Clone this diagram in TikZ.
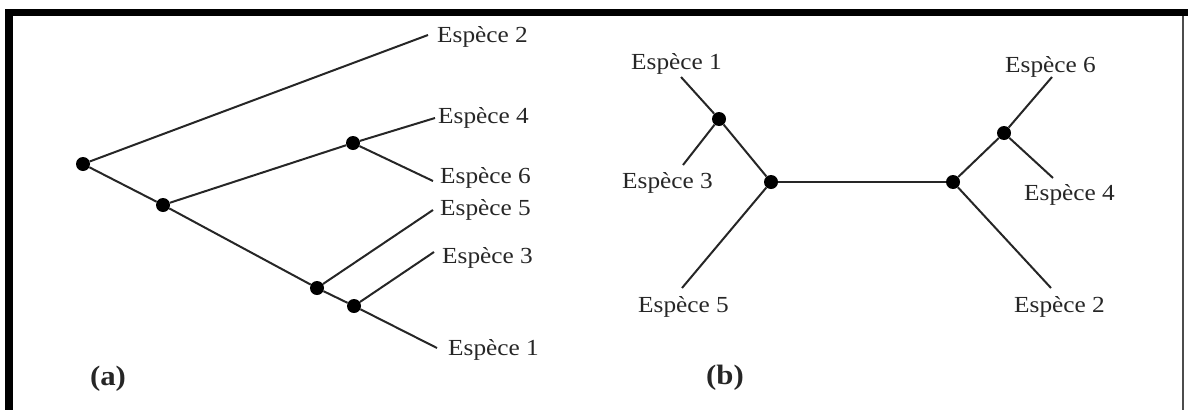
\documentclass[tikz,border=0pt]{standalone}
\usepackage{fontspec}
\setmainfont[FakeStretch=1.1]{Liberation Serif}
\begin{document}
\begin{tikzpicture}[x=1pt,y=-1pt,
  dot/.style={circle, fill=black, inner sep=0pt, minimum size=14pt},
  lbl/.style={font=\fontsize{23}{23}\selectfont, inner sep=0pt, anchor=base west, text=black!85},
  branch/.style={line width=2pt, draw=black!85},
  panel/.style={font=\bfseries\fontsize{28}{28}\selectfont, inner sep=0pt, text=black!85}]
\useasboundingbox (0,0) rectangle (1188,410);
% frame
\fill[black] (5,9) rectangle (1188,16);
\fill[black] (5,9) rectangle (13,410);
\draw[line width=2.5pt, black!70] (1183,16) -- (1183,410);

% ---------- panel (a) ----------
\node[dot] (a1) at (83,164) {};
\node[dot] (a2) at (163,205) {};
\node[dot] (a3) at (353,143) {};
\node[dot] (a4) at (317,288) {};
\node[dot] (a5) at (354,306) {};
\coordinate (e2a) at (428,35);
\coordinate (e4a) at (435,118);
\coordinate (e6a) at (433,181);
\coordinate (e5a) at (433,210);
\coordinate (e3a) at (434,252);
\coordinate (e1a) at (437,348);
\node[lbl] (la2) at (437,42) {Espèce 2};
\node[lbl] (la4) at (438,123) {Espèce 4};
\node[lbl] (la6) at (440,183) {Espèce 6};
\node[lbl] (la5) at (440,215) {Espèce 5};
\node[lbl] (la3) at (442,263) {Espèce 3};
\node[lbl] (la1) at (448,355) {Espèce 1};
\draw[branch] (a1) -- (e2a);
\draw[branch] (a1) -- (a2);
\draw[branch] (a2) -- (a3);
\draw[branch] (a3) -- (e4a);
\draw[branch] (a3) -- (e6a);
\draw[branch] (a2) -- (a4);
\draw[branch] (a4) -- (e5a);
\draw[branch] (a4) -- (a5);
\draw[branch] (a5) -- (e3a);
\draw[branch] (a5) -- (e1a);
\node[panel] (pa) at (108,379) {(a)};

% ---------- panel (b) ----------
\node[dot] (b1) at (719,119) {};
\node[dot] (b2) at (771,182) {};
\node[dot] (b3) at (953,182) {};
\node[dot] (b4) at (1004,133) {};
\coordinate (e1b) at (681,77);
\coordinate (e3b) at (683,165);
\coordinate (e5b) at (682,288);
\coordinate (e6b) at (1052,77);
\coordinate (e4b) at (1053,178);
\coordinate (e2b) at (1051,288);
\node[lbl] (lb1) at (631,69) {Espèce 1};
\node[lbl] (lb3) at (622,188) {Espèce 3};
\node[lbl] (lb5) at (638,312) {Espèce 5};
\node[lbl] (lb6) at (1005,72) {Espèce 6};
\node[lbl] (lb4) at (1024,200) {Espèce 4};
\node[lbl] (lb2) at (1014,312) {Espèce 2};
\draw[branch] (b1) -- (e1b);
\draw[branch] (b1) -- (e3b);
\draw[branch] (b1) -- (b2);
\draw[branch] (b2) -- (e5b);
\draw[branch] (b2) -- (b3);
\draw[branch] (b3) -- (b4);
\draw[branch] (b4) -- (e6b);
\draw[branch] (b4) -- (e4b);
\draw[branch] (b3) -- (e2b);
\node[panel] (pb) at (725,378) {(b)};
\end{tikzpicture}
\end{document}
